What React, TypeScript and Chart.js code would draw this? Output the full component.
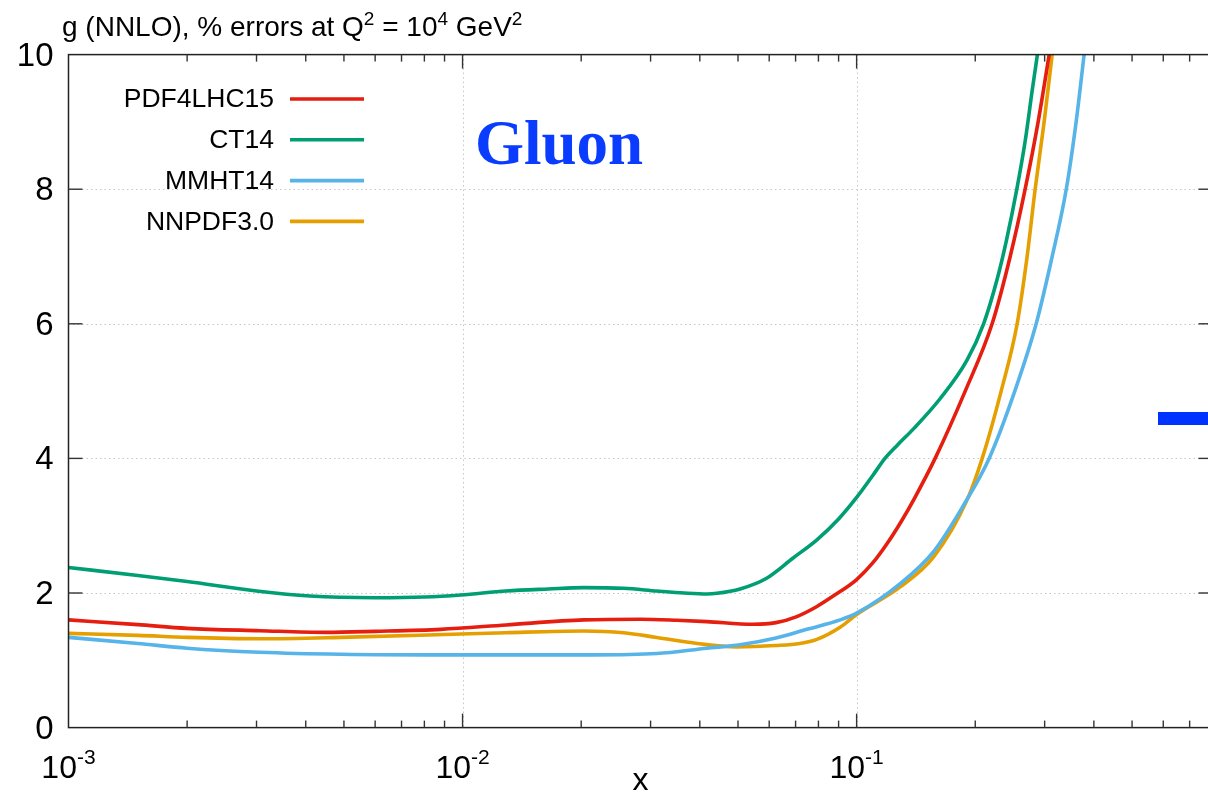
import React, { useEffect, useRef } from "react";
import { Chart, registerables } from "chart.js";

Chart.register(...registerables);

// ---------- data ----------
const SERIES_NAMES = ["PDF4LHC15", "CT14", "MMHT14", "NNPDF3.0"];
const SERIES_COLORS = ["#e51e10", "#009e73", "#56b4e9", "#e69f00"];

const PDF4LHC15_X = [0.001, 0.0015, 0.002, 0.00306, 0.0045, 0.006, 0.0088, 0.0129, 0.0203, 0.0283, 0.035, 0.0417, 0.0546, 0.0624, 0.0705, 0.0793, 0.087, 0.1, 0.11, 0.12, 0.13, 0.14, 0.1582, 0.1886, 0.2207, 0.2453, 0.2677, 0.2888, 0.3081];
const PDF4LHC15_Y = [1.6, 1.53, 1.475, 1.44, 1.415, 1.43, 1.46, 1.525, 1.6, 1.61, 1.595, 1.575, 1.535, 1.56, 1.65, 1.8, 1.95, 2.2, 2.45, 2.75, 3.07, 3.4, 4.0, 5.0, 6.0, 7.0, 8.0, 9.0, 10.0];

const CT14_X = [0.001, 0.0015, 0.002, 0.003, 0.0041, 0.006, 0.008, 0.0099, 0.0129, 0.0165, 0.0203, 0.0256, 0.0311, 0.0365, 0.0417, 0.0442, 0.0506, 0.0591, 0.069, 0.0793, 0.09, 0.1, 0.11, 0.118, 0.127, 0.14, 0.163, 0.1906, 0.21, 0.227, 0.24, 0.255, 0.268, 0.279, 0.2876];
const CT14_Y = [2.38, 2.26, 2.17, 2.03, 1.955, 1.93, 1.94, 1.97, 2.03, 2.06, 2.08, 2.07, 2.03, 2.0, 1.985, 1.995, 2.06, 2.22, 2.52, 2.79, 3.1, 3.42, 3.75, 4.0, 4.2, 4.45, 4.89, 5.46, 6.0, 6.65, 7.24, 8.0, 8.73, 9.47, 10.0];

const MMHT14_X = [0.001, 0.0015, 0.002, 0.00306, 0.0049, 0.0099, 0.0213, 0.0311, 0.0417, 0.0506, 0.0624, 0.0748, 0.0908, 0.1, 0.129, 0.157, 0.1866, 0.2169, 0.252, 0.2855, 0.3135, 0.3404, 0.3606, 0.3778];
const MMHT14_Y = [1.34, 1.25, 1.18, 1.12, 1.09, 1.08, 1.08, 1.1, 1.18, 1.23, 1.33, 1.46, 1.6, 1.7, 2.14, 2.62, 3.3, 4.0, 5.0, 6.0, 7.0, 8.0, 9.0, 10.0];

const NNPDF30_X = [0.001, 0.0015, 0.002, 0.00306, 0.0049, 0.0099, 0.0129, 0.0203, 0.0256, 0.0311, 0.0394, 0.0496, 0.0624, 0.0718, 0.0793, 0.0908, 0.1, 0.129, 0.157, 0.1906, 0.2083, 0.2327, 0.2555, 0.2708, 0.2838, 0.2991, 0.3135];
const NNPDF30_Y = [1.4, 1.37, 1.34, 1.32, 1.34, 1.39, 1.41, 1.435, 1.41, 1.34, 1.25, 1.2, 1.22, 1.25, 1.31, 1.49, 1.68, 2.09, 2.54, 3.38, 4.0, 5.0, 6.0, 7.0, 8.0, 9.0, 10.0];

const SERIES_X = [PDF4LHC15_X, CT14_X, MMHT14_X, NNPDF30_X];
const SERIES_Y = [PDF4LHC15_Y, CT14_Y, MMHT14_Y, NNPDF30_Y];

const X_MIN = 0.001;
const X_MAX = 0.8;
const Y_MIN = 0;
const Y_MAX = 10;
const Y_TICKS = [0, 2, 4, 6, 8, 10];
const X_DECADES = [-3, -2, -1];
const X_MINOR_MULTS = [2, 3, 4, 5, 6, 7, 8, 9];

const TITLE_PARTS = [
  { t: "g (NNLO), % errors at Q" },
  { t: "2", sup: true },
  { t: " = 10" },
  { t: "4", sup: true },
  { t: " GeV" },
  { t: "2", sup: true },
];
const X_AXIS_LABEL = "x";
const X_AXIS_LABEL_AT = 0.0283;
const ANNOTATION = "Gluon";

// ---------- drawing helpers ----------
const SANS = '"Liberation Sans", Arial, Helvetica, sans-serif';
const SERIF = '"Liberation Serif", "Times New Roman", serif';

type Part = { t: string; sup?: boolean };

function drawRich(
  ctx: CanvasRenderingContext2D,
  parts: Part[],
  x: number,
  y: number,
  align: "left" | "center" | "right",
  size: number,
  supSize: number,
  supRise: number
) {
  const widths = parts.map((p) => {
    ctx.font = `${p.sup ? supSize : size}px ${SANS}`;
    return ctx.measureText(p.t).width;
  });
  const total = widths.reduce((a, b) => a + b, 0);
  let cx = align === "center" ? x - total / 2 : align === "right" ? x - total : x;
  ctx.textAlign = "left";
  ctx.textBaseline = "alphabetic";
  parts.forEach((p, i) => {
    ctx.font = `${p.sup ? supSize : size}px ${SANS}`;
    ctx.fillText(p.t, cx, p.sup ? y - supRise : y);
    cx += widths[i];
  });
}

function seg(ctx: CanvasRenderingContext2D, x1: number, y1: number, x2: number, y2: number) {
  ctx.beginPath();
  ctx.moveTo(x1, y1);
  ctx.lineTo(x2, y2);
  ctx.stroke();
}

const decorPlugin = {
  id: "decor",
  beforeDatasetsDraw(chart: any) {
    const { ctx, chartArea: a, scales } = chart;
    const xs = scales.x;
    const ys = scales.y;
    ctx.save();
    ctx.strokeStyle = "#c6c6c6";
    ctx.lineWidth = 1;
    ctx.setLineDash([1.5, 3]);
    for (const v of Y_TICKS) {
      if (v <= Y_MIN || v >= Y_MAX) continue;
      const py = Math.round(ys.getPixelForValue(v)) + 0.5;
      seg(ctx, a.left, py, a.right, py);
    }
    for (const e of X_DECADES) {
      const v = Math.pow(10, e);
      if (v <= X_MIN || v >= X_MAX) continue;
      const px = Math.round(xs.getPixelForValue(v)) + 0.5;
      seg(ctx, px, a.top, px, a.bottom);
    }
    ctx.restore();
  },
  afterDatasetsDraw(chart: any) {
    const { ctx, chartArea: a, scales } = chart;
    const xs = scales.x;
    const ys = scales.y;
    ctx.save();
    ctx.setLineDash([]);

    // border
    ctx.strokeStyle = "#222";
    ctx.lineWidth = 1.5;
    ctx.strokeRect(a.left, a.top, a.right - a.left, a.bottom - a.top);

    // ticks
    ctx.strokeStyle = "#333";
    ctx.lineWidth = 1.4;
    const MAJOR = 14;
    const MINOR = 7;
    for (const e of X_DECADES) {
      const base = Math.pow(10, e);
      if (base > X_MIN && base < X_MAX) {
        const px = xs.getPixelForValue(base);
        seg(ctx, px, a.bottom, px, a.bottom - MAJOR);
        seg(ctx, px, a.top, px, a.top + MAJOR);
      }
      for (const m of X_MINOR_MULTS) {
        const v = base * m;
        if (v <= X_MIN || v >= X_MAX) continue;
        const px = xs.getPixelForValue(v);
        seg(ctx, px, a.bottom, px, a.bottom - MINOR);
        seg(ctx, px, a.top, px, a.top + MINOR);
      }
    }
    for (const v of Y_TICKS) {
      if (v <= Y_MIN || v >= Y_MAX) continue;
      const py = ys.getPixelForValue(v);
      seg(ctx, a.left, py, a.left + MAJOR, py);
      seg(ctx, a.right, py, a.right - MAJOR, py);
    }

    // tick labels
    ctx.fillStyle = "#000";
    ctx.font = `33px ${SANS}`;
    ctx.textAlign = "right";
    ctx.textBaseline = "middle";
    for (const v of Y_TICKS) {
      const py = ys.getPixelForValue(v);
      ctx.fillText(String(v), a.left - 15, py + 2);
    }
    for (const e of X_DECADES) {
      const px = xs.getPixelForValue(Math.pow(10, e));
      drawRich(ctx, [{ t: "10" }, { t: String(e), sup: true }], px, a.bottom + 50, "center", 32, 21, 14);
    }

    // axis label
    ctx.font = `32px ${SANS}`;
    ctx.textAlign = "center";
    ctx.textBaseline = "alphabetic";
    ctx.fillText(X_AXIS_LABEL, xs.getPixelForValue(X_AXIS_LABEL_AT), a.bottom + 62);

    // title
    drawRich(ctx, TITLE_PARTS as Part[], 62, 36, "left", 28, 19, 11);

    // legend
    const ds = chart.data.datasets;
    ds.forEach((d: any, i: number) => {
      const cy = 99 + i * 40.8;
      ctx.font = `26.5px ${SANS}`;
      ctx.fillStyle = "#000";
      ctx.textAlign = "right";
      ctx.textBaseline = "middle";
      ctx.fillText(d.label, 274, cy + 1);
      ctx.strokeStyle = d.borderColor;
      ctx.lineWidth = 3.6;
      seg(ctx, 290, cy, 364, cy);
    });

    // annotation
    ctx.fillStyle = "#0a3cff";
    ctx.font = `bold 63px ${SERIF}`;
    ctx.textAlign = "left";
    ctx.textBaseline = "alphabetic";
    ctx.fillText(ANNOTATION, 475, 164);

    // blue marker bar at right edge
    ctx.fillStyle = "#0033ff";
    ctx.fillRect(1158, 412, 60, 13);

    ctx.restore();
  },
};

export default function App() {
  const canvasRef = useRef<HTMLCanvasElement | null>(null);

  useEffect(() => {
    const canvas = canvasRef.current;
    if (!canvas) return;
    const datasets = SERIES_NAMES.map((name, i) => ({
      label: name,
      data: SERIES_X[i].map((xv, j) => ({ x: xv, y: SERIES_Y[i][j] })),
      borderColor: SERIES_COLORS[i],
      backgroundColor: SERIES_COLORS[i],
      borderWidth: 3.6,
      pointRadius: 0,
      fill: false,
      cubicInterpolationMode: "monotone" as const,
    }));
    const chart = new Chart(canvas, {
      type: "line",
      data: { datasets },
      options: {
        responsive: false,
        animation: false,
        devicePixelRatio: 1,
        layout: { padding: { left: 68.5, right: 17.5, top: 54.6, bottom: 69.4 } },
        plugins: { legend: { display: false }, tooltip: { enabled: false }, title: { display: false } },
        scales: {
          x: { type: "logarithmic", min: X_MIN, max: X_MAX, display: false },
          y: { type: "linear", min: Y_MIN, max: Y_MAX, display: false },
        },
      },
      plugins: [decorPlugin],
    });
    return () => chart.destroy();
  }, []);

  return (
    <div
      style={{
        position: "fixed",
        left: 0,
        top: 0,
        width: 1208,
        height: 797,
        overflow: "hidden",
        background: "#fff",
      }}
    >
      <canvas
        ref={canvasRef}
        width={1230}
        height={797}
        style={{ display: "block", width: 1230, height: 797 }}
      />
    </div>
  );
}
